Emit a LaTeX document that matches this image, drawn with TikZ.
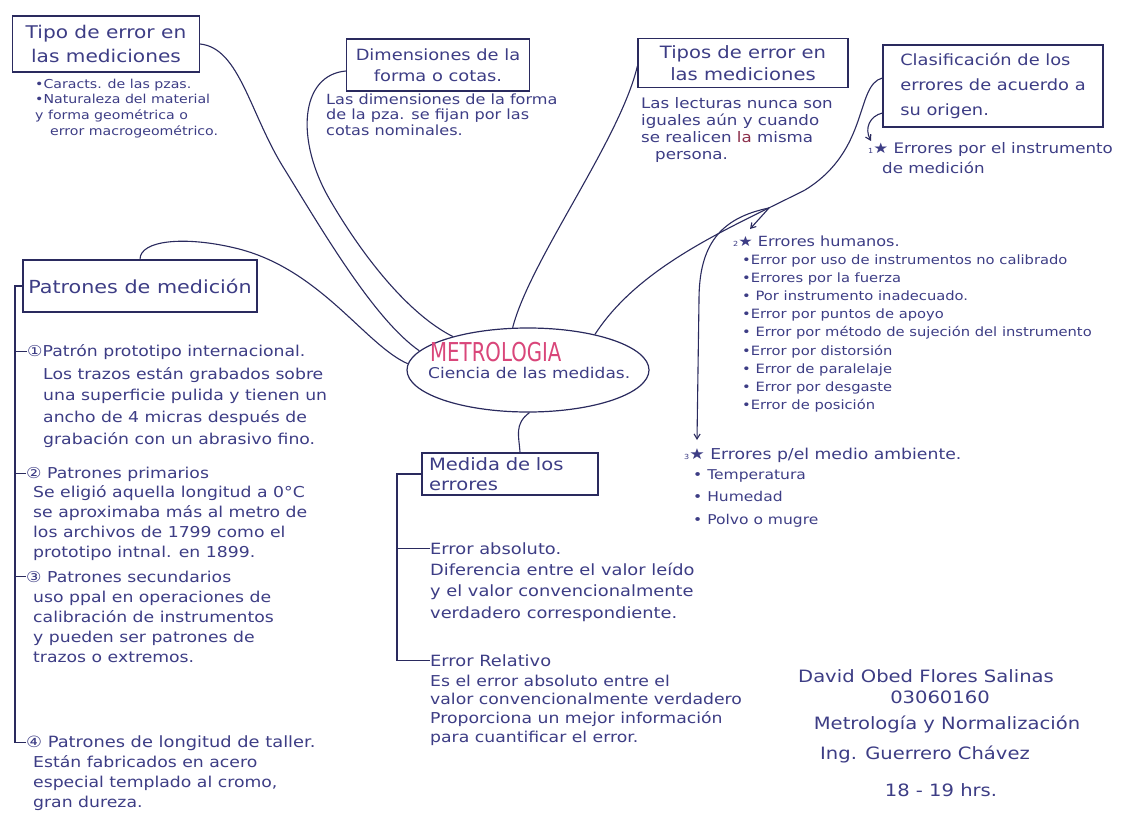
\documentclass[tikz,border=0pt]{standalone}
\usepackage{fontspec}
\setmainfont{DejaVu Sans}[FakeStretch=1.15]
\usepackage{graphicx}
\usetikzlibrary{shapes.geometric,arrows.meta}
\definecolor{ink}{HTML}{3D3D85}
\definecolor{lin}{HTML}{2A2A5E}
\definecolor{rosa}{HTML}{D9467A}
\definecolor{vino}{HTML}{8C2F4A}
\begin{document}
\begin{tikzpicture}[x=1pt,y=-1pt,
  tbox/.style={draw=lin,line width=1.2pt,inner sep=3pt,text=ink},
  ttxt/.style={text=ink,align=left,anchor=base west,inner sep=0pt},
  tsig/.style={text=ink,anchor=base,inner sep=0pt,font={\fontsize{17}{20}\selectfont}},
  tconn/.style={draw=lin,line width=1.1pt},
  tarr/.style={tconn,-{Straight Barb[length=5pt,width=6pt]}},
  fs/.style 2 args={font={\fontsize{#1}{#2}\selectfont}}]
\fill[white] (0,0) rectangle (1128,822);
\useasboundingbox (0,0) rectangle (1128,822);

% central ellipse
\node[ellipse,draw=lin,line width=1.2pt,minimum width=242pt,minimum height=84pt,inner sep=0pt] (metro) at (528,370) {};
\node[ttxt,text=rosa] (metrot) at (430,361) {\scalebox{0.66}[1]{\fontsize{26}{26}\selectfont METROLOGIA}};
\node[ttxt,fs={14.8}{18}] (ciencia) at (428,378) {Ciencia de las medidas.};

% Tipo de error  (multi-line ttxt nodes: position = baseline of LAST line)
\node[tbox,fs={17.5}{24},minimum width=187pt,minimum height=56pt,align=center] (tipo) at (106,44) {Tipo de error en\\las mediciones};
\node[ttxt,fs={12.3}{15.6}] (tipob) at (35,135) {•Caracts. de las pzas.\\•Naturaleza del material\\y forma geométrica o\\\hspace*{15pt}error macrogeométrico.};

% Dimensiones
\node[tbox,fs={15.5}{21},minimum width=183pt,minimum height=52pt,align=center] (dim) at (438,65) {Dimensiones de la\\forma o cotas.};
\node[ttxt,fs={14}{15.5}] (dimt) at (326,135) {Las dimensiones de la forma\\de la pza. se fijan por las\\cotas nominales.};

% Tipos de error
\node[tbox,fs={17}{22},minimum width=210pt,minimum height=49pt,align=center] (tipos) at (743,63) {Tipos de error en\\las mediciones};
\node[ttxt,fs={14.5}{17}] (tipost) at (641,159) {Las lecturas nunca son\\iguales aún y cuando\\se realicen {\color{vino}la} misma\\\hspace*{14pt}persona.};

% Clasificacion
\node[tbox,fs={15.5}{25},minimum width=220pt,minimum height=82pt,align=left] (clas) at (993,86) {Clasificación de los\\errores de acuerdo a\\su origen.};
\node[ttxt,fs={14.5}{20}] (instr) at (868,173) {{\fontsize{7}{7}\selectfont 1}★ Errores por el instrumento\\\hspace*{14pt}de medición};
\node[ttxt,fs={14}{18}] (hum) at (733,246) {{\fontsize{7}{7}\selectfont 2}★ Errores humanos.};
\node[ttxt,fs={12.8}{18.2}] (humi) at (742,409.6) {•Error por uso de instrumentos no calibrado\\•Errores por la fuerza\\• Por instrumento inadecuado.\\•Error por puntos de apoyo\\• Error por método de sujeción del instrumento\\•Error por distorsión\\• Error de paralelaje\\• Error por desgaste\\•Error de posición};
\node[ttxt,fs={15}{20}] (medio) at (684,459) {{\fontsize{7}{7}\selectfont 3}★ Errores p/el medio ambiente.};
\node[ttxt,fs={13.5}{22.5}] (medioi) at (693,524) {• Temperatura\\• Humedad\\• Polvo o mugre};

% Patrones
\node[tbox,fs={18}{22},minimum width=234pt,minimum height=52pt] (patr) at (140,286) {Patrones de medición};
\coordinate (bx) at (15,286);
\node[ttxt,fs={15}{21.7}] (p1) at (27,356) {①Patrón prototipo internacional.};
\node[ttxt,fs={15}{21.7}] (p1t) at (43,444.1) {Los trazos están grabados sobre\\una superficie pulida y tienen un\\ancho de 4 micras después de\\grabación con un abrasivo fino.};
\node[ttxt,fs={15}{20.3}] (p2) at (26,478) {② Patrones primarios};
\node[ttxt,fs={15}{20.3}] (p2t) at (33,557.9) {Se eligió aquella longitud a 0°C\\se aproximaba más al metro de\\los archivos de 1799 como el\\prototipo intnal. en 1899.};
\node[ttxt,fs={15}{20}] (p3) at (26,582) {③ Patrones secundarios};
\node[ttxt,fs={15}{20}] (p3t) at (33,662) {uso ppal en operaciones de\\calibración de instrumentos\\y pueden ser patrones de\\trazos o extremos.};
\node[ttxt,fs={15.5}{20}] (p4) at (26,747) {④ Patrones de longitud de taller.};
\node[ttxt,fs={15}{20}] (p4t) at (33,807) {Están fabricados en acero\\especial templado al cromo,\\gran dureza.};

% Medida
\node[tbox,fs={17}{20},minimum width=176pt,minimum height=42pt,align=left,text width=162pt] (med) at (510,474) {Medida de los\\errores};
\coordinate (mb) at (397,474);
\node[ttxt,fs={15.5}{21}] (eabs) at (430,554) {Error absoluto.};
\node[ttxt,fs={15.5}{21.5}] (eabst) at (430,618) {Diferencia entre el valor leído\\y el valor convencionalmente\\verdadero correspondiente.};
\node[ttxt,fs={15.5}{21}] (erel) at (430,666) {Error Relativo};
\node[ttxt,fs={15}{18.7}] (erelt) at (430,742.1) {Es el error absoluto entre el\\valor convencionalmente verdadero\\Proporciona un mejor información\\para cuantificar el error.};

% signature
\node[tsig] (s1) at (926,682) {David Obed Flores Salinas};
\node[tsig] (s2) at (940,703) {03060160};
\node[tsig] (s3) at (947,729) {Metrología y Normalización};
\node[tsig] (s4) at (925,759) {Ing. Guerrero Chávez};
\node[tsig] (s5) at (941,796) {18 - 19 hrs.};

% connectors
\draw[tconn] (tipo.east) .. controls (240,48) and (250,115) .. (285,170) .. controls (325,235) and (375,320) .. (metro.170);
\draw[tconn] ([yshift=-6pt]dim.west) .. controls (300,75) and (295,140) .. (330,200) .. controls (365,260) and (410,315) .. (metro.156);
\draw[tconn] ([yshift=-3pt]tipos.west) .. controls (620,140) and (530,260) .. (metro.110);
\draw[tconn] ([yshift=8pt]clas.west) .. controls (855,85) and (870,150) .. (805,190) .. controls (730,228) and (640,265) .. (metro.28);
\draw[tconn] (patr.north) .. controls (140,240) and (185,236) .. (235,248) .. controls (320,268) and (365,345) .. (metro.177);
\draw[tconn] (metro.-88) .. controls (514,424) and (519,436) .. ([xshift=10pt]med.north);

\coordinate (br) at (769,208);
\coordinate (humtip) at (750,229);
\coordinate (medtip) at (697,440);
\coordinate (instip) at (871,141);
\draw[tarr] (br) -- (humtip);
\draw[tarr] (br) .. controls (720,218) and (699,245) .. (699,300) -- (medtip);
\draw[tarr] ([yshift=-27pt]clas.west) .. controls (870,116) and (864,128) .. (instip);

% brackets
\draw[tconn] (patr.west) -- (bx) -- (bx |- p4.west) -- (p4.west);
\draw[tconn] (bx |- p1.west) -- (p1.west);
\draw[tconn] (bx |- p2.west) -- (p2.west);
\draw[tconn] (bx |- p3.west) -- (p3.west);
\draw[tconn] (med.west) -- (mb) -- (mb |- erel.west) -- (erel.west);
\draw[tconn] (mb |- eabs.west) -- (eabs.west);
\end{tikzpicture}
\end{document}
